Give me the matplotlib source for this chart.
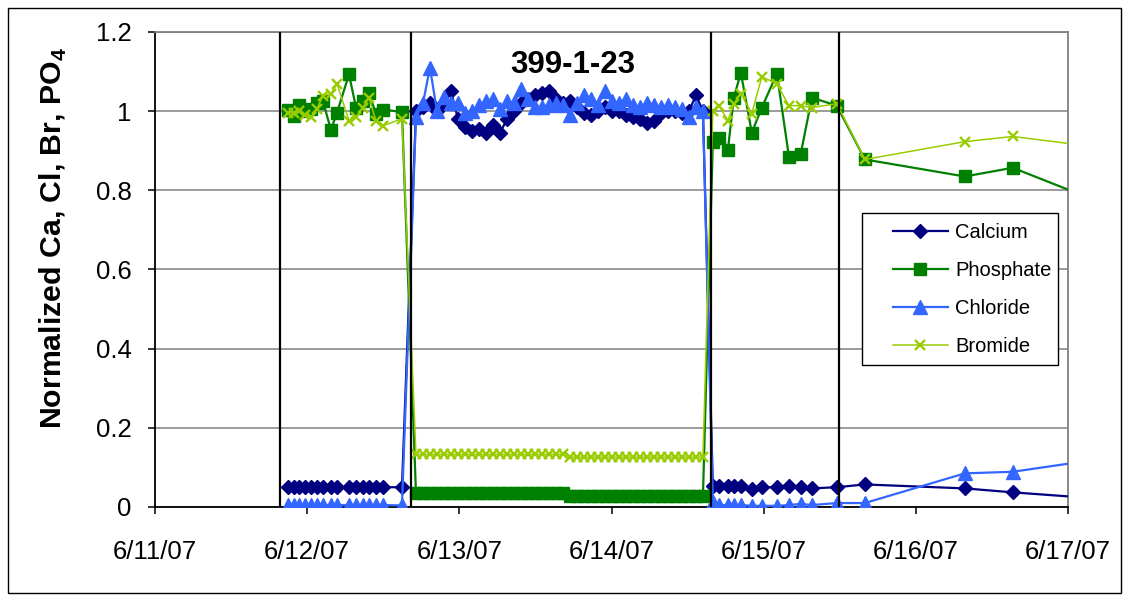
import datetime as dt

import matplotlib
matplotlib.use("Agg")
import matplotlib.pyplot as plt
import matplotlib.dates as mdates
from matplotlib.patches import Rectangle
from matplotlib.ticker import FuncFormatter, MultipleLocator

plt.rcParams['font.family'] = ['Liberation Sans', 'DejaVu Sans']
plt.rcParams['mathtext.fontset'] = 'custom'
plt.rcParams['mathtext.rm'] = 'Liberation Sans'
plt.rcParams['mathtext.bf'] = 'Liberation Sans:bold'

START = dt.datetime(2007, 6, 11)

# Sample times, days elapsed since 6/11/07 00:00
elapsed_days = [
    # background feed
    0.874, 0.913, 0.946, 0.986, 1.025, 1.064, 1.104, 1.156, 1.196, 1.275,
    1.321, 1.366, 1.406, 1.452, 1.498, 1.623,
    # tracer pulse
    1.715, 1.761, 1.807, 1.853, 1.899, 1.945, 1.991, 2.037, 2.083, 2.129,
    2.175, 2.221, 2.267, 2.313, 2.359, 2.405, 2.451, 2.497, 2.543, 2.589,
    2.635, 2.681, 2.727, 2.773, 2.819, 2.865, 2.911, 2.957, 3.003, 3.049,
    3.095, 3.141, 3.187, 3.233, 3.279, 3.325, 3.371, 3.417, 3.463, 3.509,
    3.555, 3.601,
    # return to background feed
    3.666, 3.706, 3.765, 3.804, 3.850, 3.922, 3.988, 4.087, 4.166, 4.244,
    4.317, 4.481, 4.665, 5.322, 5.637, 6.137,
]

calcium = [
    0.050, 0.050, 0.051, 0.050, 0.050, 0.050, 0.051, 0.050, 0.050, 0.050,
    0.050, 0.051, 0.050, 0.050, 0.050, 0.050,
    1.000, 1.010, 1.020, 1.000, 1.020, 1.050, 0.980, 0.960, 0.950, 0.955,
    0.945, 0.965, 0.945, 0.980, 1.000, 1.020, 1.030, 1.040, 1.045, 1.050,
    1.030, 1.020, 1.025, 1.010, 0.995, 0.990, 1.000, 1.010, 1.000, 1.000,
    0.990, 0.985, 0.980, 0.970, 0.975, 0.995, 1.000, 1.000, 0.995, 1.000,
    1.040, 1.000,
    0.053, 0.053, 0.053, 0.053, 0.052, 0.045, 0.050, 0.050, 0.053, 0.050,
    0.047, 0.050, 0.057, 0.047, 0.037, 0.023,
]

phosphate = [
    1.004, 0.989, 1.015, 1.000, 1.005, 1.021, 1.025, 0.953, 0.996, 1.093,
    1.009, 1.026, 1.047, 0.993, 1.004, 0.998,
    0.036, 0.035, 0.035, 0.035, 0.035, 0.035, 0.035, 0.035, 0.035, 0.035,
    0.035, 0.035, 0.035, 0.035, 0.035, 0.035, 0.035, 0.035, 0.035, 0.035,
    0.035, 0.035, 0.029, 0.029, 0.029, 0.029, 0.029, 0.029, 0.029, 0.029,
    0.029, 0.029, 0.029, 0.029, 0.029, 0.029, 0.029, 0.029, 0.029, 0.029,
    0.029, 0.029,
    0.923, 0.933, 0.903, 1.034, 1.097, 0.946, 1.009, 1.095, 0.885, 0.893,
    1.034, 1.014, 0.878, 0.835, 0.857, 0.781,
]

chloride = [
    0.005, 0.005, 0.005, 0.005, 0.005, 0.005, 0.005, 0.005, 0.005, 0.005,
    0.005, 0.005, 0.005, 0.005, 0.005, 0.004,
    0.985, 1.020, 1.110, 1.000, 1.035, 1.020, 1.020, 0.995, 1.000, 1.015,
    1.025, 1.030, 1.005, 1.025, 1.020, 1.055, 1.030, 1.010, 1.010, 1.015,
    1.020, 1.015, 0.990, 1.020, 1.040, 1.030, 1.015, 1.050, 1.025, 1.020,
    1.030, 1.015, 1.010, 1.020, 1.015, 1.010, 1.015, 1.010, 1.005, 0.985,
    1.010, 1.000,
    0.012, 0.005, 0.005, 0.005, 0.005, 0.003, 0.003, 0.003, 0.005, 0.008,
    0.005, 0.010, 0.010, 0.085, 0.089, 0.117,
]

bromide = [
    0.996, 0.996, 1.000, 0.990, 0.984, 1.006, 1.039, 1.044, 1.069, 0.976,
    0.984, 1.009, 1.034, 0.976, 0.963, 0.981,
    0.133, 0.133, 0.133, 0.133, 0.133, 0.133, 0.133, 0.133, 0.133, 0.133,
    0.133, 0.133, 0.133, 0.133, 0.133, 0.133, 0.133, 0.133, 0.133, 0.133,
    0.133, 0.133, 0.126, 0.126, 0.126, 0.126, 0.126, 0.126, 0.126, 0.126,
    0.126, 0.126, 0.126, 0.126, 0.126, 0.126, 0.126, 0.126, 0.126, 0.126,
    0.126, 0.126,
    1.001, 1.014, 0.976, 1.019, 1.044, 0.994, 1.087, 1.069, 1.014, 1.014,
    1.009, 1.019, 0.878, 0.923, 0.936, 0.912,
]

# Feed switching times, days elapsed since 6/11/07
switch_days = [0.821, 1.685, 3.656, 4.496]

series_names = ["Calcium", "Phosphate", "Chloride", "Bromide"]
chart_title = "399-1-23"
y_label = r"Normalized Ca, Cl, Br, PO$_\mathbf{4}$"

times = [START + dt.timedelta(days=d) for d in elapsed_days]
switch_times = [START + dt.timedelta(days=d) for d in switch_days]

fig = plt.figure(figsize=(11.29, 6.01), dpi=100)
ax = fig.add_axes([155 / 1129, 94 / 601, 913 / 1129, 475 / 601])

styles = [
    dict(color="#000080", marker="D", ms=7.5, lw=1.6, mec="#000080"),
    dict(color="#008000", marker="s", ms=8.5, lw=1.6, mec="#008000"),
    dict(color="#3366FF", marker="^", ms=9.5, lw=1.6, mec="#3366FF"),
    dict(color="#99CC00", marker="x", ms=7.5, lw=1.1, mew=1.7, mec="#99CC00"),
]
handles = []
for name, values, st in zip(series_names, [calcium, phosphate, chloride, bromide], styles):
    (ln,) = ax.plot(times, values, label=name, zorder=3, **st)
    handles.append(ln)

for t in switch_times:
    ax.axvline(t, color="black", lw=1.6, zorder=5)

ax.set_xlim(START, START + dt.timedelta(days=6))
ax.set_ylim(0, 1.2)
ax.yaxis.set_major_locator(MultipleLocator(0.2))
ax.yaxis.set_major_formatter(FuncFormatter(lambda v, p: f"{v:g}"))
ax.xaxis.set_major_locator(mdates.DayLocator())
ax.xaxis.set_major_formatter(
    FuncFormatter(lambda v, p: (lambda d: f"{d.month}/{d.day}/{d:%y}")(mdates.num2date(v)))
)

ax.grid(axis="y", color="#808080", lw=1.1, zorder=0)
ax.set_axisbelow(True)
for side in ("left", "bottom"):
    ax.spines[side].set_color("black")
    ax.spines[side].set_linewidth(1.3)
for side in ("top", "right"):
    ax.spines[side].set_color("#808080")
    ax.spines[side].set_linewidth(1.3)

ax.tick_params(axis="both", direction="out", length=5, width=1.1, labelsize=18.5, color="black")
ax.tick_params(axis="y", pad=12)
ax.tick_params(axis="x", pad=19)

ax.set_ylabel(y_label, fontsize=21.8, fontweight="bold")
ax.yaxis.set_label_coords(-0.094, 0.566)

ax.text(0.458, 0.93, chart_title, transform=ax.transAxes, ha="center", va="center",
        fontsize=22.5, fontweight="bold")

# legend box
ax.add_patch(Rectangle((0.774, 0.299), 0.215, 0.32, transform=ax.transAxes,
                       facecolor="white", edgecolor="black", lw=1.0, zorder=6))
leg = ax.legend(handles=handles, loc="upper left", bbox_to_anchor=(0.808, 0.598),
                frameon=False, fontsize=14.5, borderpad=0, borderaxespad=0,
                handlelength=2.75, handletextpad=0.35, labelspacing=0.95)
leg.set_zorder(7)

# outer chart border
fig.patches.append(Rectangle((8 / 1129, 8 / 601), 1113 / 1129, 585 / 601,
                             transform=fig.transFigure, fill=False,
                             edgecolor="black", lw=1.0))

fig.savefig("out.png", dpi=100)
